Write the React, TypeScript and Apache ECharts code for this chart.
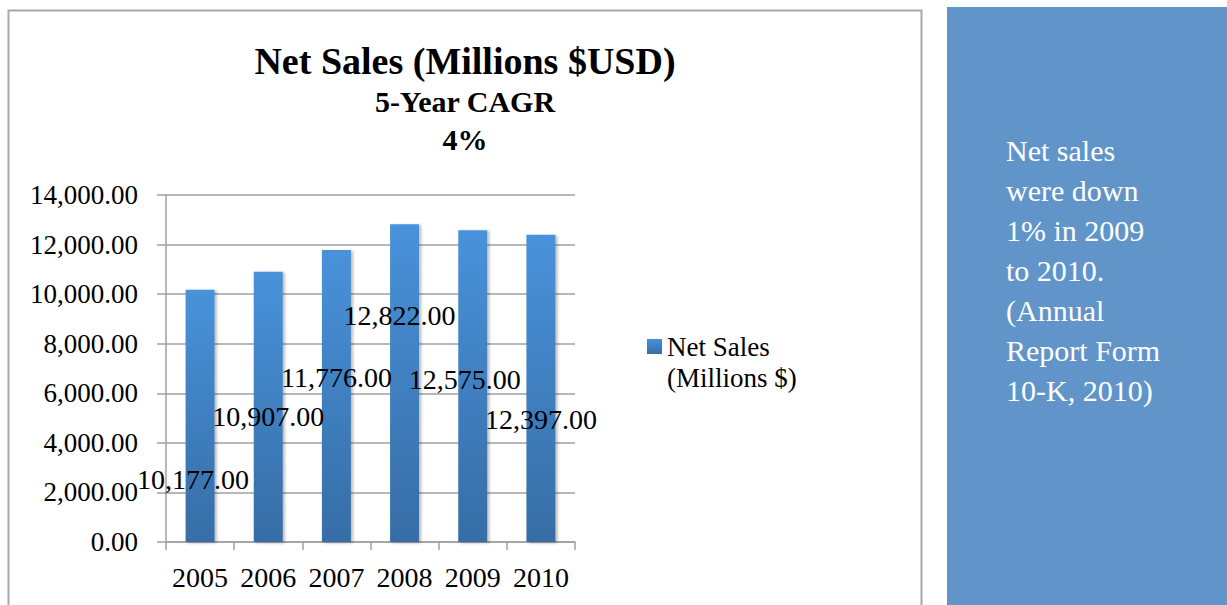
import React, { useEffect, useRef } from "react";
import * as echarts from "echarts";

// Fiscal years and reported net sales (millions of USD)
const years = ["2005", "2006", "2007", "2008", "2009", "2010"];
const netSales = [10177, 10907, 11776, 12822, 12575, 12397];

const seriesName = "Net Sales\n(Millions $)";
const chartTitle = "Net Sales (Millions $USD)";
const chartSubtitle = "5-Year CAGR\n4%";
const noteLines = [
  "Net sales",
  "were down",
  "1% in 2009",
  "to 2010.",
  "(Annual",
  "Report Form",
  "10-K, 2010)",
];

const yMin = 0;
const yMax = 14000;
const yStep = 2000;

// Per-bar nudges of the value labels, as laid out in the original report
const labelNudges: [number, number][] = [
  [-7, 64],
  [0, 10],
  [0, -19],
  [-5, -68],
  [-8, -7],
  [0, 31],
];

const FONT = "'Liberation Serif', 'Times New Roman', serif";

const fmt = (v: number) =>
  v.toLocaleString("en-US", { minimumFractionDigits: 2, maximumFractionDigits: 2 });

export default function App() {
  const ref = useRef<HTMLDivElement>(null);

  useEffect(() => {
    document.body.style.margin = "0";
    if (!ref.current) return;
    const chart = echarts.init(ref.current, undefined, { renderer: "svg" });

    const option: echarts.EChartsOption = {
      animation: false,
      backgroundColor: "#ffffff",
      textStyle: { fontFamily: FONT },
      title: {
        text: chartTitle,
        subtext: chartSubtitle,
        left: 460,
        top: 37,
        textAlign: "center",
        itemGap: 2,
        textStyle: {
          fontFamily: FONT,
          fontSize: 38,
          fontWeight: "bold",
          color: "#000000",
        },
        subtextStyle: {
          fontFamily: FONT,
          fontSize: 30,
          fontWeight: "bold",
          color: "#000000",
          lineHeight: 38,
        },
      },
      legend: {
        data: [seriesName],
        left: 642,
        top: 295,
        icon: "rect",
        itemWidth: 15,
        itemHeight: 15,
        // leading blank line keeps the swatch level with the first text line
        formatter: (name: string) => "\n" + name,
        textStyle: {
          fontFamily: FONT,
          fontSize: 27,
          color: "#000000",
          lineHeight: 31,
        },
      },
      grid: {
        left: 166,
        top: 195,
        width: 409,
        height: 347,
        containLabel: false,
      },
      xAxis: {
        type: "category",
        data: years,
        axisLine: { lineStyle: { color: "#A0A0A0", width: 1.5 } },
        axisTick: { show: true, length: 8, lineStyle: { color: "#A0A0A0", width: 1.5 } },
        axisLabel: {
          interval: 0,
          hideOverlap: false,
          fontFamily: FONT,
          fontSize: 28,
          color: "#000000",
          margin: 21,
        },
      },
      yAxis: {
        type: "value",
        min: yMin,
        max: yMax,
        interval: yStep,
        axisLine: { show: true, lineStyle: { color: "#A0A0A0", width: 1.5 } },
        axisTick: { show: true, length: 9, lineStyle: { color: "#A0A0A0", width: 1.5 } },
        splitLine: { show: true, lineStyle: { color: "#A0A0A0", width: 1.5 } },
        axisLabel: {
          fontFamily: FONT,
          fontSize: 27,
          color: "#000000",
          margin: 28,
          formatter: (v: number) => fmt(v),
        },
      },
      series: [
        {
          name: seriesName,
          type: "bar",
          barWidth: 29,
          data: netSales.map((v, i) => ({
            value: v,
            label: { offset: labelNudges[i] },
          })),
          itemStyle: {
            color: new echarts.graphic.LinearGradient(0, 0, 0, 1, [
              { offset: 0, color: "#4892DA" },
              { offset: 1, color: "#376DA6" },
            ]),
            shadowColor: "rgba(0,0,0,0.28)",
            shadowBlur: 3,
            shadowOffsetX: 2,
            shadowOffsetY: 1,
          },
          label: {
            show: true,
            position: "inside",
            fontFamily: FONT,
            fontSize: 28,
            color: "#000000",
            formatter: (p: any) => fmt(p.value as number),
          },
        },
      ],
      graphic: [
        {
          type: "rect",
          shape: { x: 8.5, y: 10.5, width: 913, height: 700 },
          style: { fill: "none", stroke: "#A8A8A8", lineWidth: 2 },
          silent: true,
          z: -1,
        },
        {
          type: "rect",
          shape: { x: 947, y: 7, width: 280, height: 600 },
          style: { fill: "#6195C9" },
          silent: true,
        },
        {
          type: "text",
          x: 1006,
          y: 130,
          style: {
            text: noteLines.join("\n"),
            fill: "#ffffff",
            font: `30px ${FONT}`,
            lineHeight: 40,
            align: "left",
            verticalAlign: "top",
          },
          silent: true,
        },
      ],
    };

    chart.setOption(option);
    return () => chart.dispose();
  }, []);

  return <div ref={ref} style={{ width: 1227, height: 605 }} />;
}
